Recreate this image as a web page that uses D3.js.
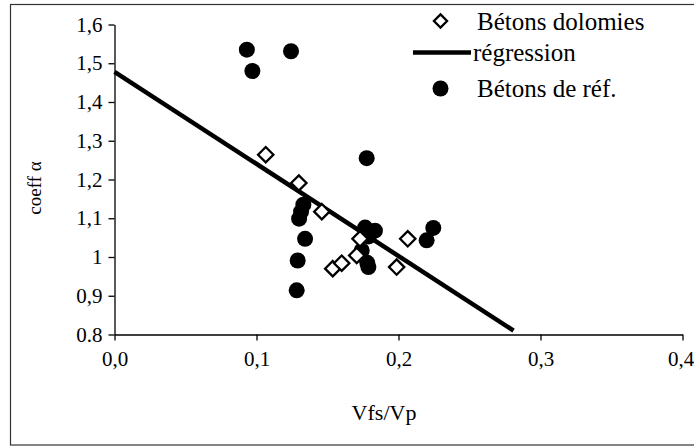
<!DOCTYPE html>
<html><head><meta charset="utf-8">
<script src="https://cdn.jsdelivr.net/npm/d3@7"></script>
<style>html,body{margin:0;padding:0;background:#fff;}svg{display:block;}
svg text{font-family:'Liberation Serif',Tinos,'Times New Roman',Times,'DejaVu Serif',serif !important;fill:#000;}</style>
</head><body>
<script>
const xTicks = [0, 0.1, 0.2, 0.3, 0.4];
const xTickLabels = ["0,0", "0,1", "0,2", "0,3", "0,4"];
const yTicks = [0.8, 0.9, 1.0, 1.1, 1.2, 1.3, 1.4, 1.5, 1.6];
const yTickLabels = ["0.8", "0,9", "1", "1,1", "1,2", "1,3", "1,4", "1,5", "1,6"];
const seriesNames = ["Bétons dolomies", "régression", "Bétons de réf."];
const dolomiesX = [0.1065, 0.1298, 0.146, 0.1729, 0.2065, 0.1537, 0.160, 0.1706, 0.1987];
const dolomiesY = [1.264, 1.191, 1.117, 1.047, 1.047, 0.970, 0.984, 1.004, 0.974];
const refX = [0.0932, 0.1243, 0.0971, 0.1776, 0.133, 0.1314, 0.130, 0.1342, 0.129, 0.1283, 0.1765, 0.1834, 0.179, 0.1741, 0.178, 0.1788, 0.2245, 0.2198];
const refY = [1.535, 1.531, 1.480, 1.255, 1.135, 1.117, 1.099, 1.047, 0.991, 0.914, 1.076, 1.068, 1.053, 1.017, 0.985, 0.974, 1.075, 1.043];
const regX = [0, 0.281];
const regY = [1.478, 0.81];
const xTitle = "Vfs/Vp";
const yTitle = "coeff α";

const FONT = "'Liberation Serif', Tinos, 'Times New Roman', Times, 'DejaVu Serif', serif";
const W = 694, H = 446;
const svg = d3.select("body").append("svg").attr("width", W).attr("height", H).attr("font-family", FONT);
svg.append("rect").attr("x", 10.5).attr("y", 4.5).attr("width", 690).attr("height", 440.5)
  .attr("fill", "none").attr("stroke", "#333").attr("stroke-width", 1.2);

const x = d3.scaleLinear().domain([0, 0.4]).range([114.5, 682.5]);
const y = d3.scaleLinear().domain([0.8, 1.6]).range([334.5, 24.5]);

const xAxis = d3.axisBottom(x).tickValues(xTicks).tickFormat((d, i) => xTickLabels[i]).tickSize(6).tickSizeOuter(0);
const gx = svg.append("g").attr("transform", `translate(0,${y(0.8)})`).call(xAxis).attr("font-family", FONT);
gx.selectAll("text").attr("font-size", 21).attr("dy", "1.05em")
  .attr("dx", (d, i) => i === xTicks.length - 1 ? -2 : 0);
const yAxis = d3.axisLeft(y).tickValues(yTicks).tickFormat((d, i) => yTickLabels[i]).tickSize(6).tickSizeOuter(0);
const gy = svg.append("g").attr("transform", `translate(${x(0)},0)`).call(yAxis).attr("font-family", FONT);
gy.selectAll("text").attr("font-size", 21).attr("x", -12);
svg.selectAll(".domain, .tick line").attr("stroke", "#000").attr("stroke-width", 1.3);

svg.append("text").attr("x", 384).attr("y", 420).attr("text-anchor", "middle").attr("font-size", 22).text(xTitle);
svg.append("text").attr("transform", "translate(41,188) rotate(-90)").attr("text-anchor", "middle").attr("font-size", 19).text(yTitle);

// regression line
const line = d3.line().x(d => x(d[0])).y(d => y(d[1]));
svg.append("path").datum(regX.map((v, i) => [v, regY[i]])).attr("d", line)
  .attr("fill", "none").attr("stroke", "#000").attr("stroke-width", 4.5);

// reference points
svg.append("g").selectAll("circle").data(refX.map((v, i) => [v, refY[i]])).join("circle")
  .attr("cx", d => x(d[0])).attr("cy", d => y(d[1])).attr("r", 8).attr("fill", "#000");

// dolomies diamonds
const dsym = d3.symbol().type(d3.symbolDiamond2).size(150);
svg.append("g").selectAll("path").data(dolomiesX.map((v, i) => [v, dolomiesY[i]])).join("path")
  .attr("transform", d => `translate(${x(d[0])},${y(d[1])})`).attr("d", dsym)
  .attr("fill", "#fff").attr("stroke", "#000").attr("stroke-width", 2.3);

// legend
const lg = svg.append("g");
lg.append("path").attr("transform", "translate(440.5,21)").attr("d", d3.symbol().type(d3.symbolDiamond2).size(110))
  .attr("fill", "#fff").attr("stroke", "#000").attr("stroke-width", 2.3);
lg.append("line").attr("x1", 413).attr("x2", 471).attr("y1", 52.5).attr("y2", 52.5).attr("stroke", "#000").attr("stroke-width", 4.5);
lg.append("circle").attr("cx", 440.5).attr("cy", 88.5).attr("r", 8).attr("fill", "#000");
const ly = [21, 52, 88];
const lx = [477, 473, 477];
seriesNames.forEach((n, i) => {
  lg.append("text").attr("x", lx[i]).attr("y", ly[i]).attr("dy", "0.35em").attr("font-size", 25).text(n);
});
</script>
</body></html>
